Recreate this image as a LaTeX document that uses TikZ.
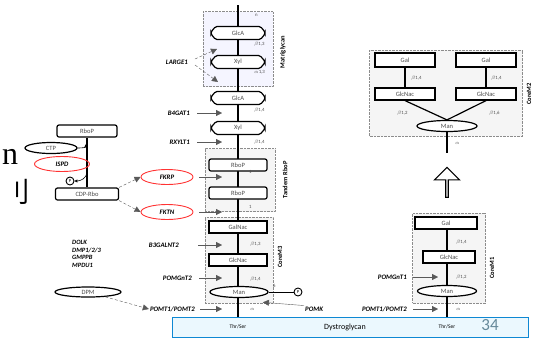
\documentclass[tikz,border=0pt]{standalone}
\usepackage{fontspec}
\setmainfont{Carlito}
\newfontfamily\cjkfont{Noto Sans CJK SC}
\newfontfamily\slidefont{Liberation Serif}
\usetikzlibrary{positioning,arrows.meta,shapes.geometric,shapes.misc,shapes.arrows,calc}

\begin{document}
\begin{tikzpicture}[
    x=1pt, y=-1pt,
    sugar/.style={rectangle, draw, line width=1.2pt, minimum width=58pt, minimum height=12pt, inner sep=0pt, fill=white, font=\fontsize{6.5}{6.5}\selectfont, text=black!70},
    acid/.style={sugar, chamfered rectangle, chamfered rectangle xsep=4pt, chamfered rectangle angle=40, rounded corners=1.5pt, minimum width=54pt, minimum height=13pt},
    rbop/.style={sugar, rounded corners=2pt},
    man/.style={sugar, ellipse, minimum height=11pt},
    gene/.style={font=\fontsize{6.8}{6.8}\selectfont\bfseries\itshape, anchor=east, inner sep=1pt},
    redring/.style={ellipse, draw=red!80, line width=0.9pt, minimum width=52pt, minimum height=15pt, inner sep=0pt, font=\fontsize{6.8}{6.8}\selectfont\bfseries\itshape},
    phos/.style={circle, draw, line width=0.9pt, minimum size=8pt, inner sep=0pt, font=\fontsize{4.5}{4.5}\selectfont, fill=white},
    lnk/.style={font=\fontsize{4.8}{4.8}\selectfont, text=black!70, anchor=west, inner sep=0pt},
    core/.style={rectangle, draw=black!45, densely dotted, fill=black!4, inner sep=0pt},
    side/.style={font=\fontsize{6.5}{6.5}\selectfont\bfseries, rotate=90, inner sep=0pt},
    spine/.style={line width=1.7pt},
    arr/.style={-{Triangle[length=6pt,width=6pt]}, black!65, thin},
    darr/.style={arr, densely dashed}
]
\useasboundingbox (0,0) rectangle (539,341);

% Slide text cut off at the left edge
\node[font=\slidefont\fontsize{32}{32}\selectfont] (slideA) at (10,157) {n};
\node[font=\cjkfont\fontsize{28}{28}\selectfont, inner sep=0pt] (slideB) at (16,192) {刂};

% Dystroglycan bar
\node[rectangle, draw=cyan!70!blue, line width=0.9pt, fill=cyan!8, minimum width=356pt, minimum height=20pt] (bar) at (350,327) {};
\node[font=\fontsize{5.5}{5.5}\selectfont] (thrA) at (238,327) {Thr/Ser};
\node[font=\fontsize{8}{8}\selectfont] (dg) at (345,327) {Dystroglycan};
\node[font=\fontsize{5.5}{5.5}\selectfont] (thrB) at (447,327) {Thr/Ser};
\node[font=\fontsize{17}{17}\selectfont, text=black!40!cyan!60!gray] (pg) at (490,325) {34};

% Group boxes of the main chain
\node[core, fill=blue!4, minimum width=70pt, minimum height=75pt] (matbox) at (238,49) {};
\node[core, minimum width=70pt, minimum height=63pt] (tanbox) at (240,180) {};
\node[core, minimum width=68pt, minimum height=86pt] (m3box) at (239,260) {};
\node[side] at (283,52) {Matriglycan};
\node[side] at (285,180) {Tandem RboP};
\node[side] at (280,257) {CoreM3};

% Main chain
\coordinate (top) at (238,5);
\draw[spine] (top) -- (top |- bar.north);
\node[acid] (glca1) at (238,33) {GlcA};
\node[acid] (xyl1) at (238,62) {Xyl};
\node[acid] (glca2) at (238,98) {GlcA};
\node[acid] (xyl2) at (238,128) {Xyl};
\node[rbop] (rbop1) at (238,165) {RboP};
\node[rbop] (rbop2) at (238,193) {RboP};
\node[sugar] (galnac) at (238,227) {GalNac};
\node[sugar] (glcnac) at (238,260) {GlcNac};
\node[man] (man1) at (239,292) {Man};
\node[phos] (p1) at (298,292) {P};
\draw[line width=0.9pt] (man1) -- (p1);

\node[lnk] at (255,15) {n};
\node[lnk] at (254,44) {$\beta$1,3};
\node[lnk] at (254,72) {$\alpha$1,3};
\node[lnk] at (254,110) {$\beta$1,4};
\node[lnk] at (254,142) {$\beta$1,4};
\node[lnk] at (249,172) {1};
\node[lnk] at (249,207) {1};
\node[lnk] at (250,244) {$\beta$1,3};
\node[lnk] at (250,279) {$\beta$1,4};
\node[lnk] at (273,286) {6};
\node[lnk] at (250,309) {$\alpha$};

% Enzymes acting on the main chain
\node[gene] (large) at (189,62) {LARGE1};
\node[gene] (b4gat) at (191,113) {B4GAT1};
\node[gene] (rxylt) at (191,142) {RXYLT1};
\node[redring] (fkrp) at (167,177) {FKRP};
\node[redring] (fktn) at (167,212) {FKTN};
\node[gene] (b3galnt) at (180,245) {B3GALNT2};
\node[gene] (pomgnt2) at (193,278) {POMGnT2};
\node[gene] (pomtA) at (196,309) {POMT1/POMT2};
\node[font=\fontsize{6.8}{6.8}\selectfont\bfseries\itshape, anchor=west, inner sep=1pt] (pomk) at (304,309) {POMK};

\draw[darr] (large.east) ++(6,-3) -- (217,49);
\draw[darr] (large.east) ++(6,3) -- (218,82);
\draw[arr] ([xshift=6pt]b4gat.east) -- ([xshift=-16pt]b4gat -| top);
\draw[arr] ([xshift=6pt]rxylt.east) -- ([xshift=-16pt]rxylt -| top);
\draw[arr] ([xshift=6pt]fkrp.east) -- ([xshift=-16pt]fkrp -| top);
\draw[arr] ([xshift=6pt]fktn.east) -- ([xshift=-16pt]fktn -| top);
\draw[arr] ([xshift=18pt]b3galnt.east) -- ([xshift=-16pt]b3galnt -| top);
\draw[arr] ([xshift=6pt]pomgnt2.east) -- ([xshift=-16pt]pomgnt2 -| top);
\draw[arr] ([xshift=4pt]pomtA.east) -- ([xshift=-16pt]pomtA -| top);
\draw[arr] (pomk.north west) -- ([shift={(3pt,-6pt)}]man1.south east);

% CDP-ribitol synthesis
\node[rbop, minimum width=60pt] (rbo) at (87,131) {RboP};
\node[rbop, minimum width=63pt] (cdp) at (87,194) {CDP-Rbo};
\draw[line width=1.2pt] (rbo) -- (cdp);
\node[man, minimum width=52pt] (ctp) at (51,148) {CTP};
\node[redring, minimum width=55pt] (ispd) at (62,164) {ISPD};
\node[phos] (p0) at (70,181) {P};
\draw[-{Triangle[length=3pt,width=3pt]}, line width=0.6pt] (ctp.east) to[out=0, in=-90] (86,144);
\draw[-{Triangle[length=3pt,width=3pt]}, line width=0.6pt] (87,172) to[out=-90, in=0] (p0.east);
\draw[darr] (cdp.north east) -- (fkrp.west);
\draw[darr] (cdp.south east) -- (fktn.west);

% Dolichol-phosphate-mannose
\node[font=\fontsize{6.5}{7.7}\selectfont\bfseries\itshape, anchor=north west, align=left, inner sep=0pt] (dpmgenes) at (72,240) {DOLK\\DMP1/2/3\\GMPPB\\MPDU1};
\node[man, minimum width=66pt, minimum height=10pt] (dpm) at (88,292) {DPM};
\draw[darr] (dpm) -- (pomtA.west);

% Core M1
\node[core, minimum width=73pt, minimum height=90pt] (m1box) at (449,258) {};
\node[side] at (492,268) {CoreM1};
\coordinate (topR) at (447,223);
\draw[spine] (topR) -- (topR |- bar.north);
\node[sugar, minimum width=62pt] (gal1) at (446,223) {Gal};
\node[sugar, minimum width=52pt] (glcnac1) at (449,257) {GlcNac};
\node[man, minimum width=59pt] (man3) at (447,291) {Man};
\node[lnk] at (456,242) {$\beta$1,4};
\node[lnk] at (456,277) {$\beta$1,2};
\node[lnk] at (456,309) {$\alpha$};
\node[gene] (pomgnt1) at (408,277) {POMGnT1};
\node[gene] (pomtB) at (408,309) {POMT1/POMT2};
\draw[arr] ([xshift=5pt]pomgnt1.east) -- ([xshift=-9pt]pomgnt1 -| topR);
\draw[arr] ([xshift=5pt]pomtB.east) -- ([xshift=-9pt]pomtB -| topR);

% Elongation to core M2
\node[single arrow, draw, line width=1.1pt, fill=white, shape border rotate=90, minimum width=25pt, minimum height=30pt, single arrow head extend=5pt, inner sep=0pt] (grow) at (447,183) {};

% Core M2
\node[core, minimum width=153pt, minimum height=86pt] (m2box) at (446,93) {};
\node[side] at (529,94) {CoreM2};
\node[sugar, minimum width=60pt, minimum height=14pt] (galL) at (405,60) {Gal};
\node[sugar, minimum width=60pt, minimum height=14pt] (galR) at (486,60) {Gal};
\node[sugar, minimum width=60pt] (glcnacL) at (405,94) {GlcNac};
\node[sugar, minimum width=60pt] (glcnacR) at (486,94) {GlcNac};
\node[man, minimum width=60pt] (man2) at (447,126) {Man};
\coordinate (tail2) at (447,153);
\draw[line width=1.2pt] (galL) -- (glcnacL);
\draw[line width=1.2pt] (galR) -- (glcnacR);
\draw[line width=1.2pt] (glcnacL.south) -- (man2.north);
\draw[line width=1.2pt] (glcnacR.south) -- (man2.north);
\draw[line width=1.2pt] (man2) -- (tail2);
\node[lnk] at (411,78) {$\beta$1,4};
\node[lnk] at (491,78) {$\beta$1,4};
\node[lnk] at (397,113) {$\beta$1,2};
\node[lnk] at (489,113) {$\beta$1,6};
\node[lnk] at (455,143) {$\alpha$};

\end{tikzpicture}
\end{document}
